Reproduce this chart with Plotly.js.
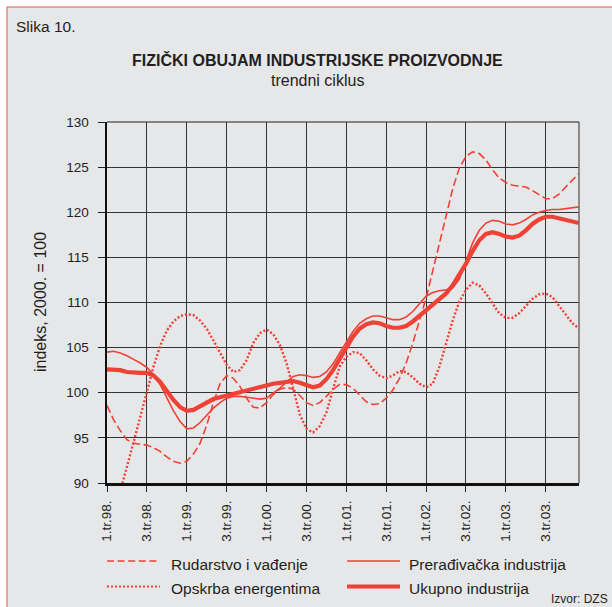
<!DOCTYPE html>
<html>
<head>
<meta charset="utf-8">
<script src="https://cdn.plot.ly/plotly-3.0.1.min.js"></script>
<style>html,body{margin:0;padding:0;background:#fff;}#chart{width:612px;height:607px;}</style>
</head>
<body>
<div id="chart"></div>
<script>
// Monthly data, Jan 1998 .. Dec 2003 (index 0..71)
const tickLabels = ["1.tr.98.","3.tr.98.","1.tr.99.","3.tr.99.","1.tr.00.","3.tr.00.","1.tr.01.","3.tr.01.","1.tr.02.","3.tr.02.","1.tr.03.","3.tr.03."];
const tickPositions = [0,6,12,18,24,30,36,42,48,54,60,66];

const rudarstvo = [98.6,97.0,95.8,94.8,94.4,94.3,94.2,93.9,93.5,92.9,92.4,92.2,
  92.4,93.2,94.4,96.4,98.9,101.0,101.9,101.6,100.7,99.4,98.4,98.3,
  98.9,99.8,100.4,100.6,100.4,99.7,98.9,98.6,98.9,99.6,100.4,100.9,
  100.9,100.5,99.7,99.0,98.7,98.8,99.4,100.3,101.6,103.3,105.5,108.0,
  110.5,113.5,116.6,119.7,122.6,124.9,126.2,126.7,126.5,125.8,124.7,123.8,
  123.3,123.0,122.9,122.8,122.4,121.9,121.5,121.5,122.0,122.8,123.6,124.3];

const preradivacka = [104.5,104.6,104.4,104.1,103.7,103.3,102.8,102.0,100.9,99.5,98.0,96.8,
  96.0,96.1,96.7,97.5,98.3,98.9,99.4,99.6,99.6,99.5,99.4,99.3,
  99.4,99.9,100.5,101.2,101.8,102.0,101.9,101.7,101.8,102.3,103.2,104.4,
  105.6,106.8,107.7,108.2,108.5,108.5,108.3,108.1,108.1,108.4,109.0,109.9,
  110.7,111.1,111.3,111.4,111.6,112.6,114.5,116.6,118.0,118.8,119.1,119.0,
  118.7,118.6,118.8,119.2,119.7,120.0,120.2,120.3,120.3,120.4,120.5,120.6];

const opskrba = [84.0,86.5,89.1,91.8,94.4,97.3,100.1,102.9,105.2,106.9,107.9,108.5,
  108.7,108.6,108.0,107.1,105.8,104.4,103.1,102.3,102.5,103.6,105.5,106.6,
  107.0,106.5,105.3,103.3,100.5,97.6,96.0,95.6,96.3,97.8,100.4,102.9,
  104.0,104.5,104.4,103.6,102.6,101.9,101.6,101.9,102.4,102.3,101.7,101.0,
  100.6,101.0,102.9,105.4,108.0,110.1,111.4,112.2,111.9,111.0,109.9,108.8,
  108.3,108.3,108.8,109.6,110.4,110.9,111.0,110.6,109.6,108.6,107.7,107.1];

const ukupno = [102.6,102.6,102.5,102.3,102.2,102.2,102.2,101.9,101.2,100.2,99.2,98.4,
  98.0,98.1,98.5,98.9,99.3,99.5,99.7,99.9,100.1,100.3,100.5,100.7,
  100.85,101.0,101.1,101.2,101.3,101.1,100.8,100.6,100.8,101.5,102.5,103.8,
  105.0,106.2,107.1,107.6,107.8,107.7,107.4,107.2,107.2,107.4,107.9,108.5,
  109.1,109.7,110.3,111.0,111.9,113.0,114.3,115.7,116.9,117.6,117.8,117.6,
  117.3,117.2,117.4,118.0,118.7,119.2,119.5,119.5,119.3,119.1,118.9,118.8];

const months = ukupno.map((_, i) => i);
const RED = "#ef4136";
const TXT = "#231f20";
const FONT = "Liberation Sans, Arial, Helvetica, sans-serif";

// plot area in pixels
const L = 107, R = 579, T = 122, B = 483;
const px = x => (x - L) / (R - L);
const py = y => (B - y) / (B - T);

const traces = [
  {x: months, y: rudarstvo, name: "Rudarstvo i vađenje", mode: "lines",
   line: {color: RED, width: 1.6, dash: "8px,3.5px"}},
  {x: months, y: opskrba, name: "Opskrba energentima", mode: "lines",
   line: {color: RED, width: 2.4, dash: "2px,2px"}},
  {x: months, y: preradivacka, name: "Prerađivačka industrija", mode: "lines",
   line: {color: RED, width: 1.6}},
  {x: months, y: ukupno, name: "Ukupno industrija", mode: "lines",
   line: {color: RED, width: 4.2}}
];

const shapes = [
  {type: "rect", xref: "paper", yref: "paper", layer: "below",
   x0: px(7), x1: px(640), y0: py(7), y1: py(640),
   fillcolor: "#e6e7e9", line: {color: "#e8554a", width: 1}},
  {type: "line", xref: "paper", yref: "paper", x0: 1, x1: 1, y0: 0, y1: 1,
   line: {color: "#6d6d6d", width: 1.5}},
  {type: "line", xref: "paper", yref: "paper", x0: 0, x1: 1, y0: 1, y1: 1,
   line: {color: "#222", width: 1.2}},
  {type: "line", xref: "paper", yref: "paper", x0: px(107), x1: px(160), y0: py(561), y1: py(561),
   line: {color: RED, width: 1.6, dash: "7px,3.6px"}},
  {type: "line", xref: "paper", yref: "paper", x0: px(107), x1: px(160), y0: py(586.5), y1: py(586.5),
   line: {color: RED, width: 2.2, dash: "2px,2px"}},
  {type: "line", xref: "paper", yref: "paper", x0: px(347), x1: px(400), y0: py(561), y1: py(561),
   line: {color: RED, width: 1.6}},
  {type: "line", xref: "paper", yref: "paper", x0: px(347), x1: px(400), y0: py(586.5), y1: py(586.5),
   line: {color: RED, width: 4.2}}
];

const ann = (text, x, y, opts) => Object.assign({
  text: text, xref: "paper", yref: "paper", x: px(x), y: py(y),
  showarrow: false, xanchor: "left", yanchor: "middle",
  font: {family: FONT, size: 15.5, color: TXT}
}, opts || {});

const annotations = [
  ann("Slika 10.", 14, 26, {font: {family: FONT, size: 15.5, color: TXT}}),
  ann("<b>FIZIČKI OBUJAM INDUSTRIJSKE PROIZVODNJE</b>", 317, 60, {xanchor: "center", font: {family: FONT, size: 16, color: TXT}}),
  ann("trendni ciklus", 317, 80, {xanchor: "center", font: {family: FONT, size: 16, color: TXT}}),
  ann("indeks, 2000. = 100", 40, 302, {xanchor: "center", textangle: -90, font: {family: FONT, size: 16, color: TXT}}),
  ann("Rudarstvo i vađenje", 169, 564),
  ann("Opskrba energentima", 169, 588),
  ann("Prerađivačka industrija", 407, 564),
  ann("Ukupno industrija", 407, 588),
  ann("Izvor: DZS", 610, 599, {xanchor: "right", font: {family: FONT, size: 12, color: TXT}})
];

const layout = {
  width: 612, height: 607,
  margin: {l: L, r: 612 - R, t: T, b: 607 - B, pad: 0},
  paper_bgcolor: "#ffffff",
  plot_bgcolor: "rgba(0,0,0,0)",
  showlegend: false,
  font: {family: FONT, size: 13, color: TXT},
  xaxis: {
    range: [0, 71], tickmode: "array", tickvals: tickPositions, ticktext: tickLabels,
    tickangle: -90, ticks: "outside", ticklen: 6, tickwidth: 1, tickcolor: "#222",
    showgrid: true, gridcolor: "#333", gridwidth: 1,
    showline: true, linecolor: "#111", linewidth: 3, zeroline: false,
    ticklabelstandoff: 3,
    tickfont: {family: FONT, size: 13.5, color: TXT}, fixedrange: true
  },
  yaxis: {
    range: [90, 130], tickmode: "linear", tick0: 90, dtick: 5,
    ticks: "outside", ticklen: 7, tickwidth: 1, tickcolor: "#222",
    showgrid: true, gridcolor: "#333", gridwidth: 1,
    showline: true, linecolor: "#111", linewidth: 2.5, zeroline: false,
    ticklabelstandoff: 6,
    tickfont: {family: FONT, size: 13.5, color: TXT}, fixedrange: true
  },
  shapes: shapes,
  annotations: annotations
};

Plotly.newPlot("chart", traces, layout, {displayModeBar: false, staticPlot: true});
</script>
</body>
</html>
